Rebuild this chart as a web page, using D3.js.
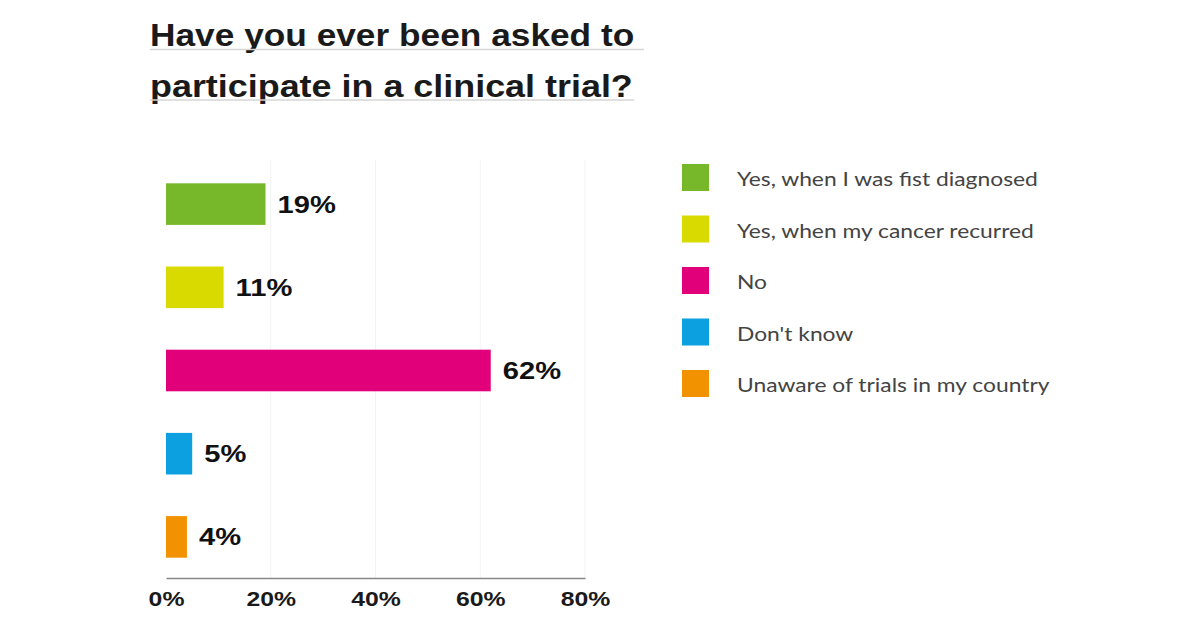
<!DOCTYPE html>
<meta charset="utf-8">
<head>
 <title>Clinical trial participation</title>
</head>
<style>
body { margin: 0; background: #fff; }
.title { font-family: "Liberation Sans", Arial, sans-serif; font-weight: bold; font-size: 31.5px; fill: #1a1a1a; }
.val { font-family: "Liberation Sans", Arial, sans-serif; font-weight: bold; font-size: 23.5px; fill: #111; }
.tick text { font-family: "Liberation Sans", Arial, sans-serif; font-weight: bold; font-size: 20px; fill: #1a1a1a; }
.legend text { font-family: Lato, "Open Sans", sans-serif; font-size: 19.5px; fill: #444; }
</style>
<body>
 <svg width="1200" height="627"></svg>

 <script src="https://d3js.org/d3.v7.min.js"></script>
 <script>
// answers, share of respondents (%)
var answers = ["Yes, when I was fist diagnosed", "Yes, when my cancer recurred", "No", "Don't know", "Unaware of trials in my country"]
var shares = [19, 11, 62, 5, 4]
var colours = ["#77b82a", "#d9db00", "#e2007a", "#0ca0e0", "#f39200"]
var xTicks = [0, 20, 40, 60, 80]
var titleLines = ["Have you ever been asked to", "participate in a clinical trial?"]

// the original picture is stretched sideways, so text gets a horizontal scale
var stretch = [1.12, 1.14]
var underlineEnd = [644, 634]

var svg = d3.select("svg")

// title with light underline
var title = svg.append("g")
titleLines.forEach(function(t, i) {
  title.append("text").attr("class", "title")
    .attr("transform", "translate(150," + (46 + i * 51) + ") scale(" + stretch[i] + ",1)")
    .text(t)
  title.append("line")
    .attr("x1", 150).attr("x2", underlineEnd[i])
    .attr("y1", 49.5 + i * 50.5).attr("y2", 49.5 + i * 50.5)
    .attr("stroke", "#d6d6d6").attr("stroke-width", 1.5)
})

var x = d3.scaleLinear().domain([0, 80]).range([166, 585])
var y = d3.scaleBand().domain(answers).range([162.5, 578.5])
  .paddingInner(0.5).paddingOuter(0.25)

// faint gridlines
svg.append("g").selectAll("line")
  .data(xTicks.slice(1))
  .join("line")
  .attr("x1", function(d) { return x(d) }).attr("x2", function(d) { return x(d) })
  .attr("y1", 160).attr("y2", 578)
  .attr("stroke", "#f3f3f3")

// bars
svg.append("g").selectAll("rect")
  .data(answers)
  .join("rect")
  .attr("x", x(0))
  .attr("y", function(d) { return y(d) })
  .attr("width", function(d, i) { return x(shares[i]) - x(0) })
  .attr("height", y.bandwidth())
  .attr("fill", function(d, i) { return colours[i] })

svg.append("g").selectAll("text")
  .data(answers)
  .join("text")
  .attr("class", "val")
  .attr("transform", function(d, i) {
    return "translate(" + (x(shares[i]) + 12) + "," + (y(d) + y.bandwidth() / 2 + 8.5) + ") scale(1.24,1)"
  })
  .text(function(d, i) { return shares[i] + "%" })

// x axis
var axis = svg.append("g")
  .attr("transform", "translate(0,578)")
  .call(d3.axisBottom(x).tickValues(xTicks).tickSize(0).tickPadding(14)
    .tickFormat(function(d) { return d + "%" }))
axis.select(".domain").attr("stroke", "#888").attr("stroke-width", 1.3)
axis.selectAll(".tick text").attr("transform", "scale(1.24,1)")

// legend
var legend = svg.append("g").attr("class", "legend")
  .selectAll("g")
  .data(answers)
  .join("g")
  .attr("transform", function(d, i) { return "translate(682," + (164 + i * 51.5) + ")" })
legend.append("rect")
  .attr("width", 27).attr("height", 27)
  .attr("fill", function(d, i) { return colours[i] })
legend.append("text")
  .attr("transform", "translate(55,22) scale(1.17,1)")
  .text(function(d) { return d })
 </script>
</body>
</html>
